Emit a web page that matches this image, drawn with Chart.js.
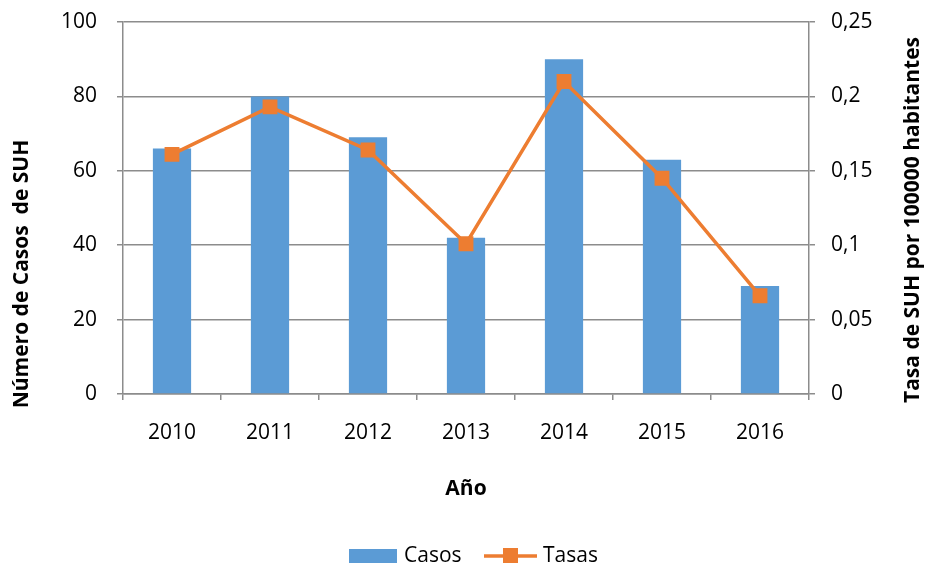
<!DOCTYPE html>
<html>
<head>
<meta charset="utf-8">
<script src="https://cdn.jsdelivr.net/npm/chart.js@4.4.1/dist/chart.umd.min.js"></script>
<style>
  body { margin: 0; background: #fff; }
  #wrap { width: 928px; height: 568px; position: relative; }
</style>
</head>
<body>
<div id="wrap"><canvas id="chart"></canvas></div>
<script>
// Data
const years = ['2010', '2011', '2012', '2013', '2014', '2015', '2016'];
const casos = [66, 80, 69, 42, 90, 63, 29];
const tasas = [0.161, 0.193, 0.164, 0.101, 0.210, 0.145, 0.066];

const blue = '#5B9BD5';
const orange = '#ED7D31';
const gridGray = '#8c8c8c';
const fontFamily = '"Open Sans", "Liberation Sans", sans-serif';

// Axis titles and legend drawn by hand (right title reads bottom-to-top)
const extrasPlugin = {
    id: 'extras',
    afterDraw(chart) {
        const ctx = chart.ctx;
        ctx.save();
        ctx.fillStyle = '#000';
        ctx.textAlign = 'center';
        ctx.textBaseline = 'middle';
        ctx.font = 'bold 21px ' + fontFamily;

        ctx.save();
        ctx.translate(22, 274);
        ctx.rotate(-Math.PI / 2);
        ctx.fillText('Número de Casos  de SUH', 0, 0);
        ctx.restore();

        ctx.save();
        ctx.translate(913, 220);
        ctx.rotate(-Math.PI / 2);
        ctx.fillText('Tasa de SUH por 100000 habitantes', 0, 0);
        ctx.restore();

        ctx.fillText('Año', 466, 489);

        // legend
        ctx.font = '21px ' + fontFamily;
        ctx.textAlign = 'left';
        ctx.fillStyle = blue;
        ctx.fillRect(349, 549, 48, 14);
        ctx.fillStyle = '#000';
        ctx.fillText('Casos', 404, 556);

        ctx.strokeStyle = orange;
        ctx.lineWidth = 3.5;
        ctx.beginPath();
        ctx.moveTo(484, 556);
        ctx.lineTo(537, 556);
        ctx.stroke();
        ctx.fillStyle = orange;
        ctx.fillRect(503, 548, 15, 15);
        ctx.fillStyle = '#000';
        ctx.fillText('Tasas', 543, 556);
        ctx.restore();
    }
};

// keep tick padding from pushing the plot area down
function fixYScale(width) {
    return (scale) => {
        scale.width = width;
        scale.paddingTop = 0;
        scale.paddingBottom = 0;
    };
}

const ctx = document.getElementById('chart').getContext('2d');
new Chart(ctx, {
    data: {
        labels: years,
        datasets: [
            {
                type: 'line',
                label: 'Tasas',
                data: tasas,
                yAxisID: 'y1',
                borderColor: orange,
                backgroundColor: orange,
                borderWidth: 3.5,
                pointStyle: 'rect',
                pointRadius: 10.5,
                pointBorderWidth: 0,
                tension: 0,
                order: 0
            },
            {
                type: 'bar',
                label: 'Casos',
                data: casos,
                yAxisID: 'y',
                backgroundColor: blue,
                barPercentage: 0.39,
                categoryPercentage: 1,
                order: 1
            }
        ]
    },
    options: {
        responsive: true,
        maintainAspectRatio: false,
        animation: false,
        layout: { padding: { top: 22, left: 0, right: 0, bottom: 0 } },
        plugins: {
            legend: { display: false },
            tooltip: { enabled: false }
        },
        scales: {
            x: {
                afterFit: (scale) => { scale.height = 174; },
                grid: {
                    offset: true,
                    drawOnChartArea: false,
                    drawTicks: true,
                    tickLength: 6,
                    color: gridGray,
                    lineWidth: 1.5
                },
                border: { display: true, color: gridGray, width: 1.5 },
                ticks: {
                    color: '#000',
                    padding: 20,
                    font: { family: fontFamily, size: 21 }
                }
            },
            y: {
                position: 'left',
                min: 0,
                max: 100,
                afterFit: fixYScale(123),
                grid: {
                    color: gridGray,
                    lineWidth: 1.5,
                    tickLength: 6
                },
                border: { display: true, color: gridGray, width: 1.5 },
                ticks: {
                    stepSize: 20,
                    color: '#000',
                    padding: 20,
                    font: { family: fontFamily, size: 21 }
                }
            },
            y1: {
                position: 'right',
                min: 0,
                max: 0.25,
                afterFit: fixYScale(119),
                grid: {
                    drawOnChartArea: false,
                    color: gridGray,
                    lineWidth: 1.5,
                    tickLength: 6
                },
                border: { display: true, color: gridGray, width: 1.5 },
                ticks: {
                    stepSize: 0.05,
                    color: '#000',
                    padding: 16,
                    font: { family: fontFamily, size: 21 },
                    callback: (value) => String(Math.round(value * 100) / 100).replace('.', ',')
                }
            }
        }
    },
    plugins: [extrasPlugin]
});
</script>
</body>
</html>
